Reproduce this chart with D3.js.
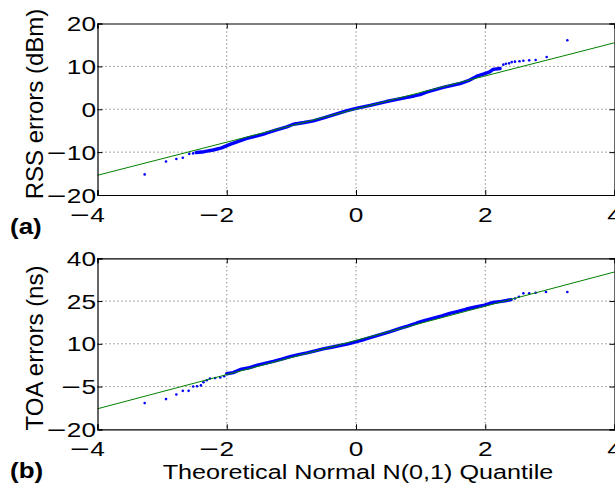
<!DOCTYPE html>
<html><head><meta charset="utf-8">
<script src="https://cdn.jsdelivr.net/npm/d3@7/dist/d3.min.js"></script>
<style>body{margin:0;background:#fff}svg{display:block}text{font-family:"Liberation Sans",Arial,Helvetica,sans-serif;fill:#000}</style>
</head><body><svg id="c" width="615" height="489"></svg>
<script>
// ---- data ----
const xTicks = [-4, -2, 0, 2, 4];
const rssTicks = [-20, -10, 0, 10, 20];
const toaTicks = [-20, -5, 10, 25, 40];
const xLabel = "Theoretical Normal N(0,1) Quantile";

// panel (a): RSS errors — dense body of the QQ cloud
const rssBandQ = [-2.47,-2.35,-2.21,-2.08,-1.95,-1.82,-1.69,-1.56,-1.43,-1.33,-1.23,-1.07,-0.97,-0.80,-0.66,-0.50,-0.30,-0.15,0.00,0.22,0.47,0.73,0.90,0.99,1.09,1.35,1.61,1.76,1.87,1.97,2.07,2.12,2.23];
const rssBandV = [-10.1,-9.9,-9.5,-9.0,-8.2,-7.5,-6.8,-6.3,-5.8,-5.3,-4.8,-4.1,-3.5,-3.1,-2.7,-2.0,-1.1,-0.4,0.2,0.9,1.8,2.6,3.1,3.4,4.0,5.1,6.0,6.8,7.7,8.2,8.7,9.3,9.5];
// panel (a): individual tail points
const rssTailQ = [-3.27,-2.94,-2.78,-2.68,-2.58,-2.52,2.28,2.32,2.37,2.41,2.46,2.53,2.59,2.68,2.78,2.95,3.27];
const rssTailV = [-15.2,-12.2,-11.6,-11.3,-10.4,-10.3,10.4,10.6,10.7,11.0,11.1,11.2,11.3,11.4,11.5,12.2,16.1];
// panel (a): reference line
const rssFitQ = [-4, 4];
const rssFitV = [-15.4, 15.5];

// panel (b): TOA errors — dense body
const toaBandQ = [-2.00,-1.90,-1.79,-1.67,-1.54,-1.41,-1.28,-1.15,-1.02,-0.89,-0.76,-0.63,-0.51,-0.38,-0.25,-0.12,0.01,0.14,0.27,0.40,0.53,0.68,0.81,0.94,1.07,1.20,1.33,1.45,1.58,1.71,1.85,1.99,2.12,2.25,2.33,2.40];
const toaBandV = [-0.5,-0.1,1.0,1.5,2.4,3.1,3.8,4.6,5.5,6.2,6.8,7.5,8.2,8.8,9.4,10.0,10.8,11.6,12.5,13.4,14.3,15.4,16.3,17.3,18.2,19.0,19.8,20.7,21.4,22.2,22.9,23.6,24.5,24.9,25.2,25.5];
// panel (b): individual tail points
const toaTailQ = [-3.27,-2.94,-2.78,-2.68,-2.59,-2.52,-2.46,-2.40,-2.36,-2.31,-2.26,-2.18,-2.10,-2.04,2.46,2.52,2.59,2.68,2.78,2.94,3.27];
const toaTailV = [-10.8,-9.4,-7.8,-6.5,-6.5,-5.0,-4.9,-4.6,-3.5,-2.8,-2.2,-2.0,-1.8,-1.4,25.9,26.5,27.7,27.7,27.9,28.2,28.2];
// panel (b): reference line
const toaFitQ = [-4, 4];
const toaFitV = [-12.8, 35.2];

// ---- drawing ----
const svg = d3.select("#c");
const L = 97.5, R = 614.5;
const x = d3.scaleLinear().domain([-4, 4]).range([L, R]);
const BLUE = "#0000ff", GREEN = "#008000";
const FS = 21, SX = 1.25;

function tickLabelX(g, t, px, base) {
  const tx = g.append("text").attr("font-size", FS).attr("text-anchor", "middle")
    .attr("transform", `translate(${px},${base}) scale(${SX},1)`).text(String(Math.abs(t)));
  if (t < 0) {
    const w = tx.node().getComputedTextLength() * SX;
    g.append("text").attr("font-size", FS).attr("text-anchor", "end")
      .attr("transform", `translate(${px - w / 2 - 0.5},${base}) scale(1.6,1)`).text("\u2212");
  }
}
function tickLabelY(g, t, py) {
  const ax = 96;
  const tx = g.append("text").attr("font-size", FS).attr("text-anchor", "end")
    .attr("transform", `translate(${ax},${py + 7.5}) scale(${SX},1)`).text(String(Math.abs(t)));
  if (t < 0) {
    const w = tx.node().getComputedTextLength() * SX;
    g.append("text").attr("font-size", FS).attr("text-anchor", "end")
      .attr("transform", `translate(${ax - w - 0.5},${py + 7.5}) scale(1.6,1)`).text("\u2212");
  }
}

function panel(top, bottom, yDomain, yTicks, bandQ, bandV, tailQ, tailV, fitQ, fitV, ylab, ylabCY, tag, tagBase) {
  const y = d3.scaleLinear().domain(yDomain).range([bottom, top]);
  const g = svg.append("g");
  // grid (dotted)
  const grid = g.append("g").attr("stroke", "#555").attr("stroke-width", 1).attr("stroke-dasharray", "1,3");
  xTicks.slice(1, -1).forEach(t => grid.append("line").attr("x1", x(t)).attr("x2", x(t)).attr("y1", top).attr("y2", bottom));
  yTicks.slice(1, -1).forEach(t => grid.append("line").attr("x1", L).attr("x2", R).attr("y1", y(t)).attr("y2", y(t)));

  // data: dense body as thick blue trace + tail dots
  const line = d3.line().x(d => x(d[0])).y(d => y(d[1]));
  const band = bandQ.map((q, i) => [q, bandV[i]]);
  g.append("path").attr("d", line(band)).attr("fill", "none").attr("stroke", BLUE)
    .attr("stroke-width", 3.4).attr("stroke-linejoin", "round").attr("stroke-linecap", "round");
  g.selectAll(null).data(tailQ.map((q, i) => [q, tailV[i]])).enter().append("circle")
    .attr("cx", d => x(d[0])).attr("cy", d => y(d[1])).attr("r", 1.3).attr("fill", BLUE);
  // fitted reference line
  g.append("path").attr("d", line(fitQ.map((q, i) => [q, fitV[i]]))).attr("fill", "none")
    .attr("stroke", GREEN).attr("stroke-width", 1);

  // axes (ticks inside, MATLAB box)
  const ax = g.append("g");
  ax.append("g").attr("transform", `translate(0,${bottom})`).call(d3.axisBottom(x).tickValues(xTicks).tickSize(-5).tickFormat(""));
  ax.append("g").attr("transform", `translate(0,${top})`).call(d3.axisTop(x).tickValues(xTicks).tickSize(-5).tickFormat(""));
  ax.append("g").attr("transform", `translate(${L},0)`).call(d3.axisLeft(y).tickValues(yTicks).tickSize(-5).tickFormat(""));
  ax.append("g").attr("transform", `translate(${R},0)`).call(d3.axisRight(y).tickValues(yTicks).tickSize(-5).tickFormat(""));
  ax.selectAll("path.domain").attr("stroke", "#000").attr("stroke-width", 1.2);
  ax.selectAll(".tick line").attr("stroke", "#000").attr("stroke-width", 1);

  // tick labels
  xTicks.forEach(t => tickLabelX(g, t, x(t), bottom + 26.5));
  yTicks.forEach(t => tickLabelY(g, t, y(t)));

  // y label
  g.append("text").attr("font-size", 24).attr("text-anchor", "middle")
    .attr("transform", `translate(43,${ylabCY}) rotate(-90)`).text(ylab);
  // panel tag
  g.append("text").attr("font-size", 22).attr("font-weight", "bold")
    .attr("transform", `translate(10,${tagBase}) scale(1.18,1)`).text(tag);
}

panel(23.5, 195, [-20, 20], rssTicks, rssBandQ, rssBandV, rssTailQ, rssTailV, rssFitQ, rssFitV,
  "RSS errors (dBm)", 104, "(a)", 234);
panel(258.3, 429.3, [-20, 40], toaTicks, toaBandQ, toaBandV, toaTailQ, toaTailV, toaFitQ, toaFitV,
  "TOA errors (ns)", 348, "(b)", 478);

svg.append("text").attr("font-size", FS).attr("text-anchor", "middle")
  .attr("transform", `translate(358,478.5) scale(1.2,1)`).text(xLabel);
</script>
</body></html>
